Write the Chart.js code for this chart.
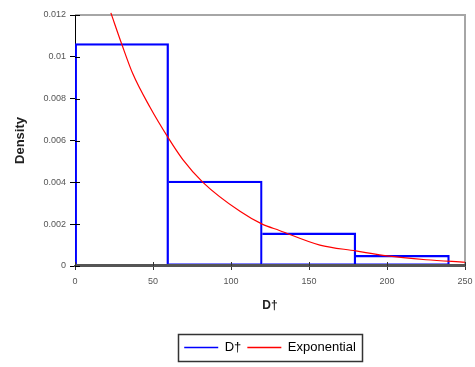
<!DOCTYPE html>
<html lang="en">
<head>
  <meta charset="UTF-8">
  <title>Density histogram</title>
  <script src="https://cdn.jsdelivr.net/npm/chart.js"></script>
  <style>
    body { margin: 0; background: #fff; }
    #wrap { width: 475px; height: 367px; }
  </style>
</head>
<body>
<div id="wrap"><canvas id="myChart"></canvas></div>
<script>
  // histogram bins (centre of each 60-wide bin) and their density
  const binCenters = [30, 90, 150, 210];
  const binDensity = [0.01063, 0.00406, 0.00158, 0.00051];

  // fitted exponential curve
  const curveX = [23, 30, 37, 48, 60, 69, 82, 106, 120, 131, 157, 180, 200, 225, 250];
  const curveY = [0.0121, 0.0106, 0.0092, 0.0076, 0.0061, 0.0051, 0.0040, 0.0026, 0.0020, 0.0017, 0.0010, 0.00072, 0.00048, 0.00030, 0.00018];

  const xTickLabels = ['0', '50', '100', '150', '200', '250'];
  const yTickLabels = ['0', '0.002', '0.004', '0.006', '0.008', '0.01', '0.012'];

  const seriesNames = ['D\u2020', 'Exponential'];
  const seriesColors = ['#0000ff', '#ff0000'];

  // grey frame, ticks crossing the axes, box round the legend
  const framePlugin = {
    id: 'frame',
    afterLayout(chart) {
      const lg = chart.legend;
      const a = chart.chartArea;
      const dx = (a.left + a.right) / 2 - (lg.left + lg.right) / 2;
      lg.left += dx;
      lg.right += dx;
      const h = lg.bottom - lg.top;
      lg.top = 335;
      lg.bottom = lg.top + h;
    },
    beforeDatasetsDraw(chart) {
      const { ctx, chartArea: a } = chart;
      ctx.save();
      ctx.strokeStyle = '#a6a6a6';
      ctx.lineWidth = 2;
      ctx.beginPath();
      ctx.moveTo(a.left, a.top);
      ctx.lineTo(a.right, a.top);
      ctx.lineTo(a.right, a.bottom);
      ctx.stroke();
      ctx.restore();
    },
    afterDatasetsDraw(chart) {
      const { ctx, chartArea: a, scales } = chart;
      ctx.save();
      // bottom axis again, on top of the bars' base
      ctx.strokeStyle = '#555';
      ctx.lineWidth = 3;
      ctx.beginPath(); ctx.moveTo(a.left, a.bottom - 0.5); ctx.lineTo(a.right, a.bottom - 0.5); ctx.stroke();
      ctx.lineWidth = 1;
      ctx.strokeStyle = '#000';
      scales.y.ticks.forEach(t => {
        const y = Math.round(scales.y.getPixelForValue(t.value)) + 0.5;
        ctx.beginPath(); ctx.moveTo(a.left, y); ctx.lineTo(a.left + 5, y); ctx.stroke();
      });
      ctx.strokeStyle = '#333';
      scales.x.ticks.forEach(t => {
        const x = Math.round(scales.x.getPixelForValue(t.value)) + 0.5;
        ctx.beginPath(); ctx.moveTo(x, a.bottom); ctx.lineTo(x, a.bottom - 4); ctx.stroke();
      });
      ctx.restore();
    },
    afterDraw(chart) {
      const boxes = chart.legend.legendHitBoxes;
      if (!boxes || !boxes.length) return;
      const left = Math.min(...boxes.map(b => b.left)) - 6;
      const right = Math.max(...boxes.map(b => b.left + b.width)) + 6;
      const top = boxes[0].top - 7;
      const bottom = boxes[0].top + boxes[0].height + 7;
      const ctx = chart.ctx;
      ctx.save();
      ctx.strokeStyle = '#333';
      ctx.lineWidth = 1.5;
      ctx.strokeRect(Math.round(left) + 0.5, Math.round(top) + 0.5, Math.round(right - left), Math.round(bottom - top));
      ctx.restore();
    }
  };

  const ctx = document.getElementById('myChart').getContext('2d');
  const myChart = new Chart(ctx, {
    data: {
      datasets: [{
        type: 'bar',
        label: seriesNames[0],
        data: binCenters.map((x, i) => ({ x: x, y: binDensity[i] })),
        xAxisID: 'xb',
        backgroundColor: 'rgba(0,0,0,0)',
        borderColor: seriesColors[0],
        borderWidth: 1.6,
        borderSkipped: c => (c.dataIndex === 0 ? 'bottom' : 'left'),
        barPercentage: 1,
        categoryPercentage: 1,
        grouped: false,
        order: 2
      }, {
        type: 'line',
        label: seriesNames[1],
        data: curveX.map((x, i) => ({ x: x, y: curveY[i] })),
        xAxisID: 'x',
        borderColor: seriesColors[1],
        borderWidth: 1.2,
        pointRadius: 0,
        tension: 0.4,
        cubicInterpolationMode: 'monotone',
        clip: 5,
        order: 1
      }]
    },
    plugins: [framePlugin],
    options: {
      responsive: true,
      maintainAspectRatio: false,
      animation: false,
      layout: { padding: { top: 15, right: 10, bottom: 31, left: 0 } },
      scales: {
        x: {
          type: 'linear',
          min: 0,
          max: 250,
          afterFit: s => { s.height = 50; s.paddingLeft = 0; s.paddingRight = 0; },
          ticks: {
            stepSize: 50,
            padding: 6,
            maxRotation: 0,
            color: '#555',
            font: { family: 'Liberation Sans', size: 9 },
            callback: (v, i) => xTickLabels[i]
          },
          grid: { drawOnChartArea: false, tickLength: 4, color: '#333' },
          border: { color: '#555', width: 2 },
          title: {
            display: true,
            text: 'D\u2020',
            color: '#222',
            padding: { top: 0, bottom: 3 },
            font: { family: 'Liberation Sans', size: 12, weight: 'bold' }
          }
        },
        xb: {
          type: 'linear',
          min: 0,
          max: 250,
          display: false,
          afterBuildTicks: s => { s.ticks = []; }
        },
        y: {
          min: 0,
          max: 0.012,
          afterFit: s => { s.width = 75; s.paddingTop = 0; s.paddingBottom = 0; },
          ticks: {
            stepSize: 0.002,
            padding: 4,
            color: '#555',
            font: { family: 'Liberation Sans', size: 9 },
            callback: (v, i) => yTickLabels[i]
          },
          grid: { drawOnChartArea: false, tickLength: 5, color: '#000' },
          border: { color: '#000', width: 1 },
          title: {
            display: true,
            text: 'Density',
            color: '#222',
            padding: { top: 13, bottom: 0 },
            font: { family: 'Liberation Sans', size: 13, weight: 'bold' }
          }
        }
      },
      plugins: {
        tooltip: { enabled: false },
        legend: {
          display: true,
          position: 'bottom',
          maxHeight: 20,
          labels: {
            boxWidth: 34,
            boxHeight: 1.5,
            padding: 6,
            color: '#111',
            font: { family: 'Liberation Sans', size: 13 },
            generateLabels: chart => seriesNames.map((name, i) => ({
              text: name,
              fillStyle: seriesColors[i],
              strokeStyle: seriesColors[i],
              lineWidth: 0,
              datasetIndex: i,
              hidden: false
            }))
          }
        }
      }
    }
  });
</script>
</body>
</html>
